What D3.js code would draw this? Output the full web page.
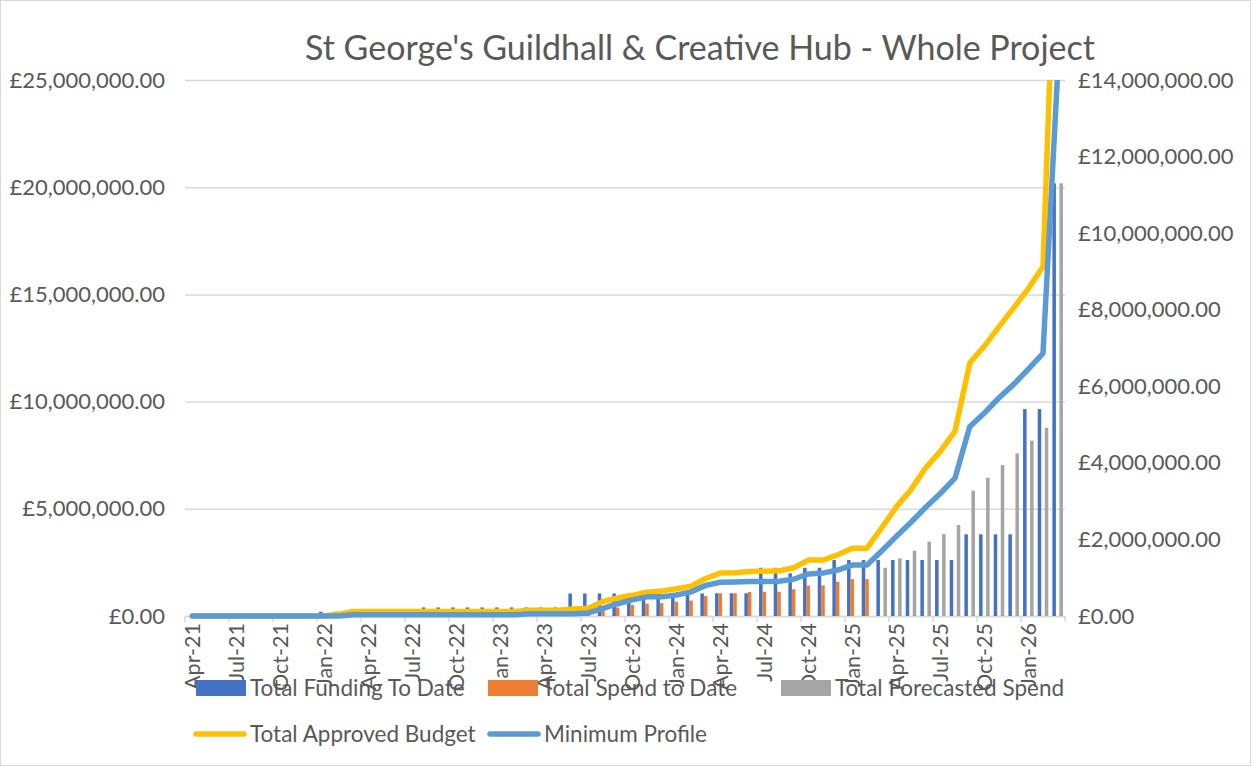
<!DOCTYPE html>
<html>
<head>
<meta charset="utf-8">
<script src="https://cdn.jsdelivr.net/npm/d3@7"></script>
<style>
  body { margin: 0; background: #fff; }
  svg { display: block; font-family: Lato, "Open Sans", sans-serif; }
</style>
</head>
<body>
<svg width="1253" height="767"></svg>
<script>
// months on the category axis
const months = [
  "Apr-21","May-21","Jun-21","Jul-21","Aug-21","Sep-21","Oct-21","Nov-21","Dec-21","Jan-22","Feb-22","Mar-22",
  "Apr-22","May-22","Jun-22","Jul-22","Aug-22","Sep-22","Oct-22","Nov-22","Dec-22","Jan-23","Feb-23","Mar-23",
  "Apr-23","May-23","Jun-23","Jul-23","Aug-23","Sep-23","Oct-23","Nov-23","Dec-23","Jan-24","Feb-24","Mar-24",
  "Apr-24","May-24","Jun-24","Jul-24","Aug-24","Sep-24","Oct-24","Nov-24","Dec-24","Jan-25","Feb-25","Mar-25",
  "Apr-25","May-25","Jun-25","Jul-25","Aug-25","Sep-25","Oct-25","Nov-25","Dec-25","Jan-26","Feb-26","Mar-26"
];

// bars (left axis)
const funding = [
  0,0,0,0,0,0,0,0,0,
  200000,200000,200000,200000,200000,200000,200000,
  400000,400000,400000,400000,400000,400000,400000,400000,400000,400000,
  1050000,1050000,1050000,1050000,1050000,1050000,1050000,1050000,1050000,1050000,1060000,1060000,1060000,
  2250000,2250000,1990000,2250000,2250000,
  2610000,2610000,2610000,2610000,2610000,2610000,2610000,2610000,2610000,
  3810000,3810000,3810000,3810000,
  9650000,9650000,
  20180000
];
const spend = [
  null,null,null,null,null,null,null,null,null,null,null,null,null,null,null,null,null,null,null,null,null,null,null,null,null,null,null,
  150000,300000,400000,520000,580000,600000,670000,720000,930000,1060000,1060000,1120000,1130000,1130000,
  1250000,1420000,1430000,1600000,1720000,1720000,
  null,null,null,null,null,null,null,null,null,null,null,null,null
];
const forecast = [
  null,null,null,null,null,null,null,null,null,null,null,null,null,null,null,null,null,null,null,null,null,null,null,null,
  null,null,null,null,null,null,null,null,null,null,null,null,null,null,null,null,null,null,null,null,null,null,null,
  2250000,2690000,3050000,3470000,3820000,4240000,5850000,6450000,7040000,7580000,8180000,8780000,20180000
];

// lines (right axis)
const budget = [
  0,0,0,0,0,0,0,0,0,0,
  50000,
  120000,120000,120000,120000,120000,120000,120000,120000,120000,120000,120000,120000,
  150000,150000,150000,
  180000,200000,380000,470000,540000,620000,650000,710000,780000,980000,
  1120000,1130000,1160000,1170000,1180000,1260000,1460000,1460000,1600000,1770000,1770000,
  2300000,2850000,3300000,3870000,4300000,4830000,6600000,7050000,7550000,8050000,8550000,9120000,
  19900000
];
const minProfile = [
  0,0,0,0,0,0,0,0,0,0,0,
  30000,30000,30000,30000,30000,30000,30000,30000,30000,30000,30000,30000,
  60000,60000,60000,60000,
  80000,200000,320000,420000,500000,500000,550000,630000,800000,
  880000,890000,900000,900000,910000,960000,1100000,1120000,1200000,1330000,1330000,
  1700000,2080000,2450000,2840000,3200000,3600000,4940000,5300000,5700000,6050000,6450000,6860000,
  14200000
];

const leftTicks = [0, 5000000, 10000000, 15000000, 20000000, 25000000];
const rightTicks = [0, 2000000, 4000000, 6000000, 8000000, 10000000, 12000000, 14000000];
const xLabels = months.filter((m, i) => i % 3 === 0);

const barSeries = [
  { key: "Total Funding To Date", values: funding, color: "#4472c4" },
  { key: "Total Spend to Date", values: spend, color: "#ed7d31" },
  { key: "Total Forecasted Spend", values: forecast, color: "#a5a5a5" }
];
const lineSeries = [
  { key: "Total Approved Budget", values: budget, color: "#ffc000" },
  { key: "Minimum Profile", values: minProfile, color: "#5b9bd5" }
];

const W = 1253, H = 767;
const plotL = 185, plotR = 1065, plotT = 80, plotB = 616;
const textColor = "#595959", gridColor = "#d9d9d9";
const money = d => "£" + d3.format(",.2f")(d);

const svg = d3.select("svg");

svg.append("rect")
  .attr("x", 0.5).attr("y", 0.5)
  .attr("width", W - 3).attr("height", H - 2)
  .attr("fill", "#fff").attr("stroke", gridColor);

// scales
const x = d3.scaleBand().domain(months).range([plotL, plotR]).paddingInner(0.28).paddingOuter(0.14);
const x1 = d3.scaleBand().domain(barSeries.map(s => s.key)).range([0, x.bandwidth()]);
const yL = d3.scaleLinear().domain([0, 25000000]).range([plotB, plotT]);
const yR = d3.scaleLinear().domain([0, 14000000]).range([plotB, plotT]);

// title
svg.append("text")
  .attr("x", 700).attr("y", 60)
  .attr("text-anchor", "middle")
  .attr("fill", textColor)
  .attr("font-size", 34)
  .text("St George's Guildhall & Creative Hub - Whole Project");

// left axis + gridlines
const gLeft = svg.append("g")
  .attr("transform", `translate(${plotL},0)`)
  .call(d3.axisLeft(yL).tickValues(leftTicks).tickFormat(money).tickSize(-(plotR - plotL)).tickPadding(20));
gLeft.select(".domain").remove();
gLeft.selectAll("line").attr("stroke", gridColor).attr("stroke-width", 1.5);
gLeft.selectAll("text").attr("fill", textColor).attr("font-size", 22).attr("font-family", "Lato");

// right axis
const gRight = svg.append("g")
  .attr("transform", `translate(${plotR},0)`)
  .call(d3.axisRight(yR).tickValues(rightTicks).tickFormat(money).tickSize(0).tickPadding(13));
gRight.select(".domain").remove();
gRight.selectAll("text").attr("fill", textColor).attr("font-size", 22).attr("font-family", "Lato");

// x axis: labels at category centres, ticks at category edges
const gX = svg.append("g")
  .attr("transform", `translate(0,${plotB})`)
  .call(d3.axisBottom(x).tickValues(xLabels).tickSize(0).tickPadding(0));
gX.select(".domain").attr("stroke", gridColor).attr("stroke-width", 1.5);
gX.selectAll("text")
  .attr("transform", "rotate(-90)")
  .attr("text-anchor", "end")
  .attr("x", -7).attr("y", 0).attr("dy", "0.35em")
  .attr("fill", textColor).attr("font-size", 21.5).attr("font-family", "Lato");

const half = (x.step() - x.bandwidth()) / 2;
const edges = xLabels.map(m => x(m) - half).concat([plotR]);
gX.selectAll(".edge")
  .data(edges)
  .enter().append("line")
  .attr("x1", d => d).attr("x2", d => d)
  .attr("y1", 0).attr("y2", 6)
  .attr("stroke", gridColor).attr("stroke-width", 1.5);

// clip to plot area
svg.append("clipPath").attr("id", "plot")
  .append("rect").attr("x", plotL).attr("y", plotT).attr("width", plotR - plotL).attr("height", plotB - plotT + 4);

const plot = svg.append("g").attr("clip-path", "url(#plot)");

// bars
barSeries.forEach(s => {
  plot.append("g")
    .selectAll("rect")
    .data(s.values.map((v, i) => ({ m: months[i], v: v })).filter(d => d.v))
    .enter().append("rect")
    .attr("x", d => x(d.m) + x1(s.key))
    .attr("width", x1.bandwidth())
    .attr("y", d => yL(d.v))
    .attr("height", d => yL(0) - yL(d.v))
    .attr("fill", s.color);
});

// lines
lineSeries.forEach(s => {
  const line = d3.line()
    .x((d, i) => x(months[i]) + x.bandwidth() / 2)
    .y(d => yR(d));
  plot.append("path")
    .datum(s.values)
    .attr("d", line)
    .attr("fill", "none")
    .attr("stroke", s.color)
    .attr("stroke-width", 5.5)
    .attr("stroke-linejoin", "round")
    .attr("stroke-linecap", "round");
});

// legend
const legendItems = [
  { key: "Total Funding To Date", color: "#4472c4", type: "bar", x: 196, y: 688 },
  { key: "Total Spend to Date", color: "#ed7d31", type: "bar", x: 488, y: 688 },
  { key: "Total Forecasted Spend", color: "#a5a5a5", type: "bar", x: 781, y: 688 },
  { key: "Total Approved Budget", color: "#ffc000", type: "line", x: 196, y: 734 },
  { key: "Minimum Profile", color: "#5b9bd5", type: "line", x: 490, y: 734 }
];
const lg = svg.append("g");
legendItems.forEach(d => {
  if (d.type === "bar") {
    lg.append("rect").attr("x", d.x).attr("y", d.y - 8).attr("width", 50).attr("height", 16).attr("fill", d.color);
  } else {
    lg.append("line").attr("x1", d.x).attr("x2", d.x + 48).attr("y1", d.y).attr("y2", d.y)
      .attr("stroke", d.color).attr("stroke-width", 5.5).attr("stroke-linecap", "round");
  }
  lg.append("text")
    .attr("x", d.x + 54).attr("y", d.y).attr("dy", "0.35em")
    .attr("fill", textColor).attr("font-size", 22.5)
    .text(d.key);
});
</script>
</body>
</html>
